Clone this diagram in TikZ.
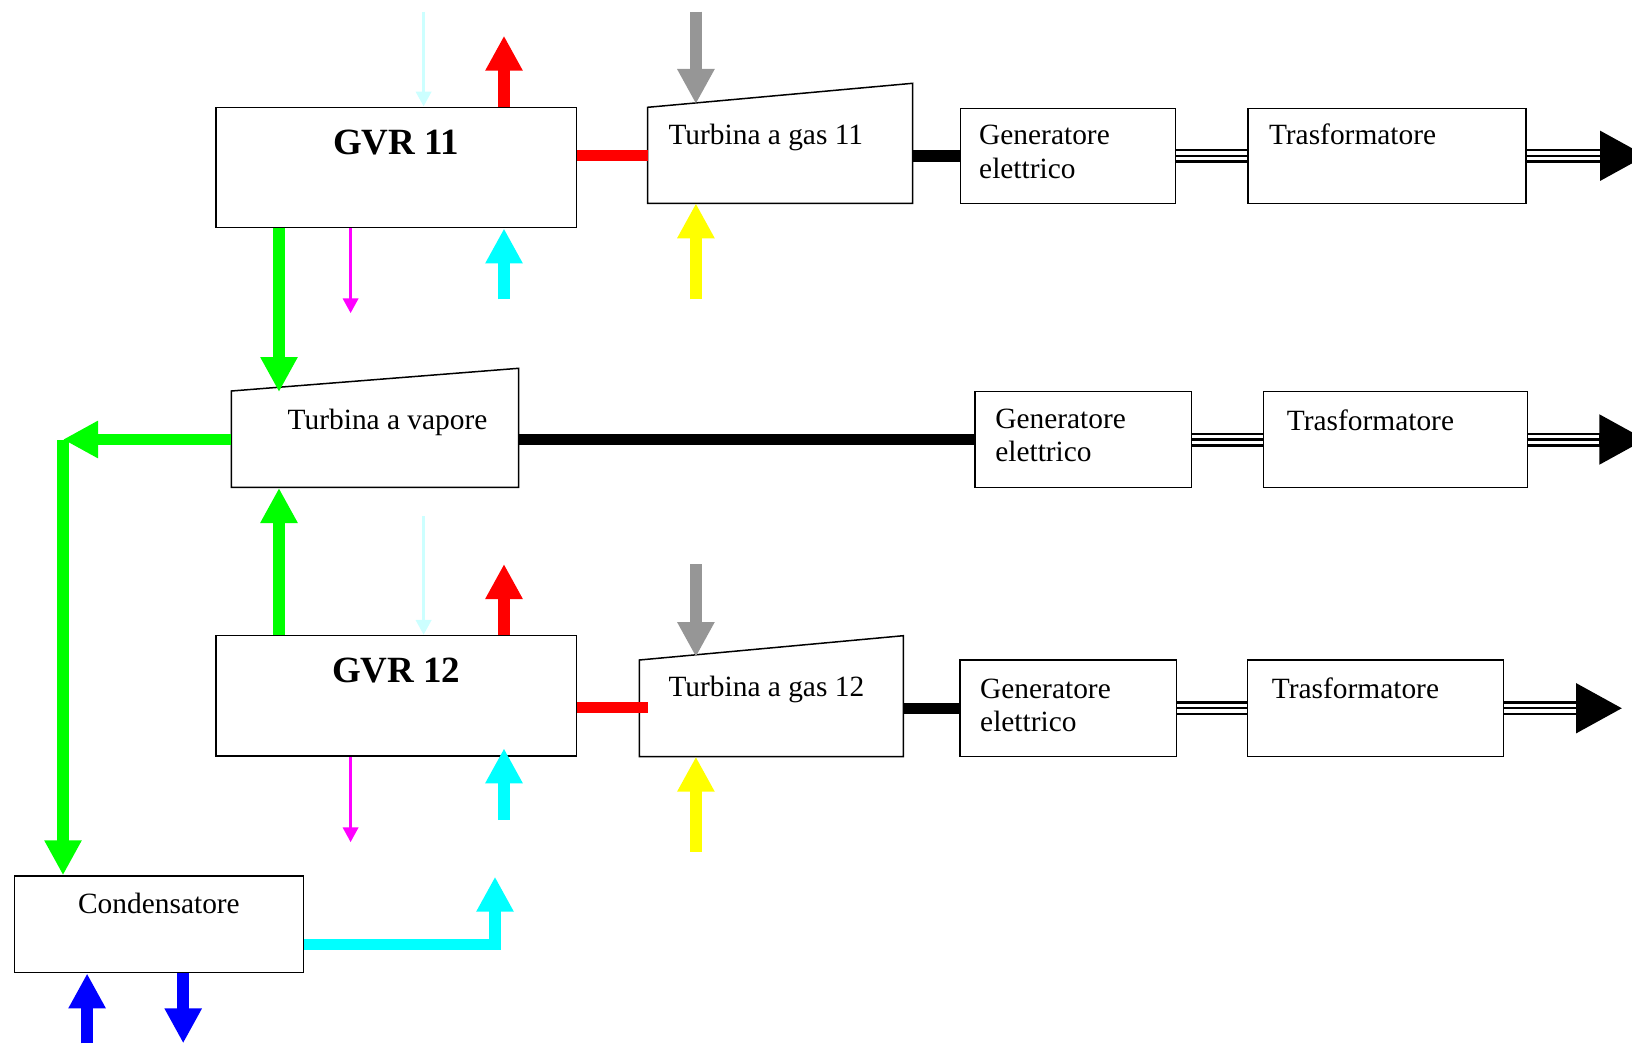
\documentclass[tikz,border=0pt]{standalone}
\usepackage{fontspec}
\setmainfont{Liberation Serif}
\usetikzlibrary{arrows.meta}
\definecolor{vgreen}{RGB}{0,255,0}
\definecolor{fred}{RGB}{255,0,0}
\definecolor{agray}{RGB}{150,150,150}
\definecolor{fyellow}{RGB}{255,255,0}
\definecolor{wcyan}{RGB}{0,255,255}
\definecolor{lcyan}{RGB}{204,255,255}
\definecolor{dmagenta}{RGB}{255,0,255}
\definecolor{cblue}{RGB}{0,0,255}

\begin{document}
\begin{tikzpicture}[x=1pt,y=-1pt,
  box/.style={draw,line width=1.5pt,inner sep=0pt},
  lbl/.style={font=\fontsize{29.4}{33.5}\selectfont,inner sep=0pt,align=left},
  big/.style={font=\fontsize{37}{40}\selectfont\bfseries,inner sep=0pt},
  pipe/.style={line width=11.5pt},
  fat/.style={pipe,-{Triangle[length=35pt,width=35pt]}},
  thin/.style={line width=3.7pt,-{Triangle[length=15pt,width=15pt]}},
  bus/.style={line width=14pt,postaction={draw=white,line width=9pt},postaction={draw=black,line width=2.4pt}},
  outhead/.style={line width=14pt,-{Triangle[length=46.7pt,width=46.7pt]}}]
\clip (0,0) rectangle (1632,1046);
% boxes
\node[box,minimum width=360.5pt,minimum height=120.4pt] (gvr11) at (396.25,167.5) {};
\node[box,minimum width=360.5pt,minimum height=120.3pt] (gvr12) at (396.25,695.85) {};
\node[box,minimum width=214.7pt,minimum height=95pt] (gen1) at (1068,155.8) {};
\node[box,minimum width=278.4pt,minimum height=95pt] (trafo1) at (1387,155.8) {};
\node[box,minimum width=216.7pt,minimum height=95.6pt] (gen2) at (1083.35,439.5) {};
\node[box,minimum width=263.8pt,minimum height=95.6pt] (trafo2) at (1395.6,439.5) {};
\node[box,minimum width=216.5pt,minimum height=96.5pt] (gen3) at (1068.25,708.25) {};
\node[box,minimum width=255.6pt,minimum height=96.5pt] (trafo3) at (1375.5,708.25) {};
\node[box,minimum width=289.3pt,minimum height=96.7pt] (cond) at (158.95,924.35) {};
% turbines
\coordinate (tg11nw) at (647.7,107.3);
\coordinate (tg11ne) at (912.6,83.3);
\coordinate (tg11se) at (912.6,203.3);
\coordinate (tg11sw) at (647.7,203.3);
\draw[line width=1.5pt] (tg11nw)--(tg11ne)--(tg11se)--(tg11sw)--cycle;
\coordinate (tvnw) at (231.4,391);
\coordinate (tvne) at (518.6,368.3);
\coordinate (tvse) at (518.6,487.3);
\coordinate (tvsw) at (231.4,487.3);
\draw[line width=1.5pt] (tvnw)--(tvne)--(tvse)--(tvsw)--cycle;
\coordinate (tg12nw) at (639.4,660);
\coordinate (tg12ne) at (903.4,635.7);
\coordinate (tg12se) at (903.4,756.7);
\coordinate (tg12sw) at (639.4,756.7);
\draw[line width=1.5pt] (tg12nw)--(tg12ne)--(tg12se)--(tg12sw)--cycle;
% texts
\node[big,anchor=base] (gvr11t) at (396.25,154) {GVR 11};
\node[big,anchor=base] (gvr12t) at (396.25,682.7) {GVR 12};
\node[lbl,anchor=base west] (tg11t) at (668.3,145) {Turbina a gas 11};
\node[lbl,anchor=base west] (tg12t) at (668.3,696) {Turbina a gas 12};
\node[lbl,anchor=base west] (tvt) at (287.5,429.3) {Turbina a vapore};
\node[lbl,anchor=base west] (gen1t) at (979,178.3) {Generatore\\elettrico};
\node[lbl,anchor=base west] (gen2t) at (995.1,461.7) {Generatore\\elettrico};
\node[lbl,anchor=base west] (gen3t) at (980,731.7) {Generatore\\elettrico};
\node[lbl,anchor=base west] (trafo1t) at (1268.8,145) {Trasformatore};
\node[lbl,anchor=base west] (trafo2t) at (1286.7,430) {Trasformatore};
\node[lbl,anchor=base west] (trafo3t) at (1271.7,698.3) {Trasformatore};
\node[lbl,anchor=base] (condt) at (158.95,913.3) {Condensatore};
% free ends
\coordinate (lc11) at (423.6,11.7);
\coordinate (rd11) at (504,35.7);
\coordinate (gy11) at (695.9,11.7);
\coordinate (gy11t) at (695.9,104);
\coordinate (mg11) at (350.6,313.3);
\coordinate (cy11) at (504,299.3);
\coordinate (ye11) at (695.9,299.3);
\coordinate (rc11) at (647.7,155.5);
\coordinate (gd) at (279,392);
\coordinate (gl) at (63,439.5);
\coordinate (gu) at (279,488);
\coordinate (lc12) at (423.6,516);
\coordinate (rd12) at (504,564);
\coordinate (gy12) at (695.9,564);
\coordinate (gy12t) at (695.9,657);
\coordinate (mg12) at (350.6,842.3);
\coordinate (cy12) at (504,820);
\coordinate (cy12t) at (504,748.3);
\coordinate (ye12) at (695.9,851.7);
\coordinate (rc12) at (647.7,707.7);
\coordinate (bu) at (87.1,1043.3);
\coordinate (bd) at (183.2,1043.3);
\coordinate (cw) at (0,944.5);
\coordinate (cc) at (495,876.7);
\coordinate (ob1) at (1600,155.8);
\coordinate (ot1) at (1646.7,155.8);
\coordinate (ob2) at (1599.4,439.5);
\coordinate (ot2) at (1646.1,439.5);
\coordinate (ob3) at (1576,708.25);
\coordinate (ot3) at (1622.7,708.25);
% GVR 11
\draw[thin,lcyan] (lc11) -- (gvr11.north -| lc11);
\draw[fat,fred] (gvr11.north -| rd11) -- (rd11);
\draw[fat,agray] (gy11) -- (gy11t);
\draw[pipe,fred] (rc11 -| gvr11.east) -- (rc11);
\draw[thin,dmagenta] (gvr11.south -| mg11) -- (mg11);
\draw[fat,wcyan] (cy11) -- (gvr11.south -| cy11);
\draw[fat,fyellow] (ye11) -- (ye11 |- tg11sw);
\draw[fat,vgreen] (gvr11.south -| gd) -- (gd);
\draw[pipe] (gen1.west -| tg11ne) -- (gen1.west);
\draw[bus] (gen1.east) -- (trafo1.west);
\draw[bus] (trafo1.east) -- (ob1);
\draw[outhead] (ob1) -- (ot1);
% turbina a vapore
\draw[fat,vgreen] (gl -| tvnw) -- (gl);
\draw[fat,vgreen] (gl) -- (gl |- cond.north);
\draw[fat,vgreen] (gvr12.north -| gu) -- (gu);
\draw[pipe] (gen2.west -| tvne) -- (gen2.west);
\draw[bus] (gen2.east) -- (trafo2.west);
\draw[bus] (trafo2.east) -- (ob2);
\draw[outhead] (ob2) -- (ot2);
% GVR 12
\draw[thin,lcyan] (lc12) -- (gvr12.north -| lc12);
\draw[fat,fred] (gvr12.north -| rd12) -- (rd12);
\draw[fat,agray] (gy12) -- (gy12t);
\draw[pipe,fred] (rc12 -| gvr12.east) -- (rc12);
\draw[thin,dmagenta] (gvr12.south -| mg12) -- (mg12);
\draw[fat,wcyan] (cy12) -- (cy12t);
\draw[fat,fyellow] (ye12) -- (ye12 |- tg12sw);
\draw[pipe] (gen3.west -| tg12ne) -- (gen3.west);
\draw[bus] (gen3.east) -- (trafo3.west);
\draw[bus] (trafo3.east) -- (ob3);
\draw[outhead] (ob3) -- (ot3);
% condensatore
\draw[fat,cblue] (bu) -- (bu |- cond.south);
\draw[fat,cblue] (bd |- cond.south) -- (bd);
\draw[fat,wcyan] (cond.east |- cw) -| (cc);
\end{tikzpicture}
\end{document}
